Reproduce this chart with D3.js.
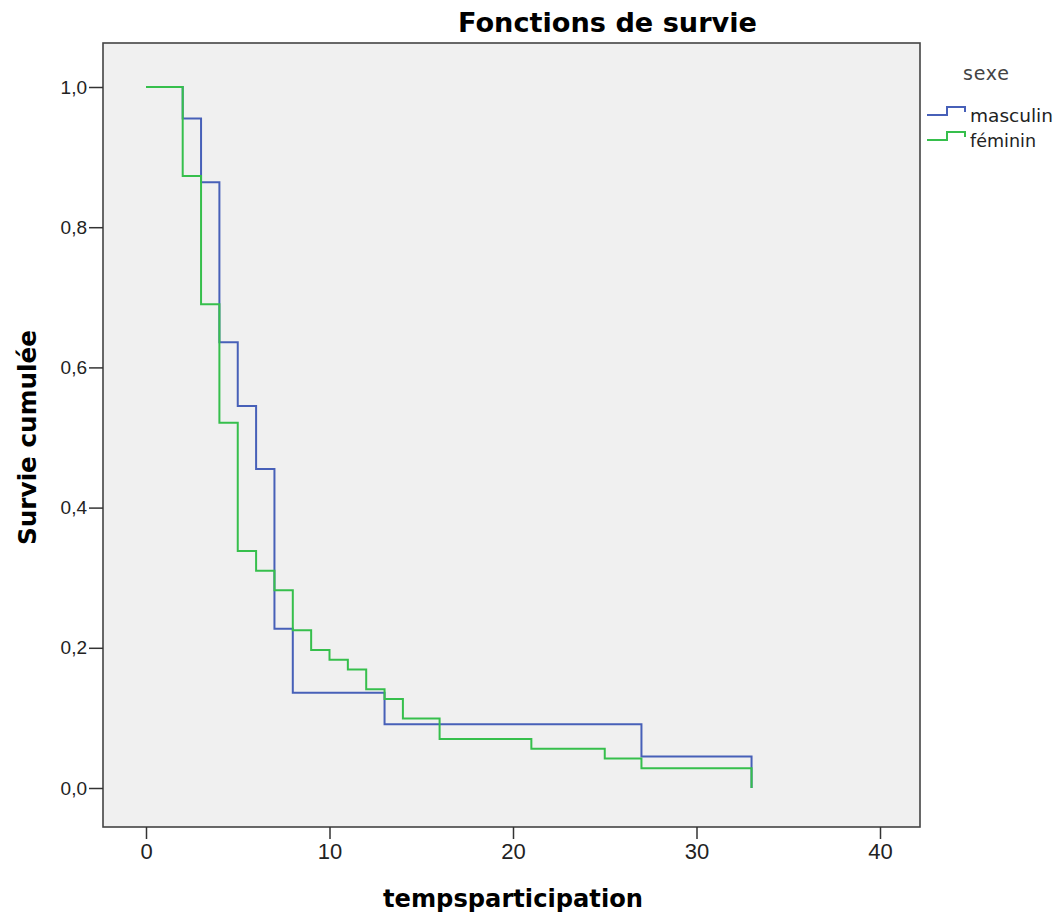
<!DOCTYPE html>
<html>
<head>
<meta charset="utf-8">
<script src="https://cdn.jsdelivr.net/npm/d3@7"></script>
<style>
  body { margin: 0; background: #fff; }
  text { font-family: "DejaVu Sans", Verdana, sans-serif; }
</style>
</head>
<body>
<svg id="chart"></svg>
<script>
// survival steps (time, cumulative survival after the step)
const timesMasculin = [0, 2, 3, 4, 5, 6, 7, 8, 13, 27, 33];
const survMasculin = [1.0, 0.955, 0.864, 0.636, 0.545, 0.455, 0.227, 0.136, 0.091, 0.045, 0.0];

const timesFeminin = [0, 2, 3, 4, 5, 6, 7, 8, 9, 10, 11, 12, 13, 14, 16, 21, 25, 27, 33];
const survFeminin = [1.0, 0.873, 0.690, 0.521, 0.338, 0.310, 0.282, 0.225, 0.197, 0.183, 0.169, 0.141, 0.127, 0.099, 0.070, 0.056, 0.042, 0.028, 0.0];

const groups = ['masculin', 'féminin'];
const groupColors = ['#4760b8', '#36bf4c'];
const xTicks = [0, 10, 20, 30, 40];
const yTicks = [0, 0.2, 0.4, 0.6, 0.8, 1.0];

const W = 1061, H = 917;
const frame = {left: 103, right: 920, top: 43, bottom: 827};
const NARROW = '"Liberation Sans Narrow", "Liberation Sans", Arial, sans-serif';

const svg = d3.select('#chart').attr('width', W).attr('height', H);

const xScale = d3.scaleLinear().domain([0, 40]).range([146, 880]);
const yScale = d3.scaleLinear().domain([0, 1]).range([788, 87]);

svg.append('rect')
  .attr('x', frame.left).attr('y', frame.top)
  .attr('width', frame.right - frame.left)
  .attr('height', frame.bottom - frame.top)
  .attr('fill', '#f0f0f0')
  .attr('stroke', '#444')
  .attr('stroke-width', 1.6);

// axes
const fmt = d => d3.format('.1f')(d).replace('.', ',');
const xAxis = svg.append('g')
  .attr('transform', `translate(0,${frame.bottom})`)
  .call(d3.axisBottom(xScale).tickValues(xTicks).tickSize(12).tickPadding(4))
  .call(g => g.select('.domain').remove());
xAxis.selectAll('.tick text')
  .attr('font-size', 22)
  .style('font-family', NARROW);

const yAxis = svg.append('g')
  .attr('transform', `translate(${frame.left},0)`)
  .call(d3.axisLeft(yScale).tickValues(yTicks).tickFormat(fmt).tickSize(14).tickPadding(2))
  .call(g => g.select('.domain').remove());
yAxis.selectAll('.tick text')
  .attr('font-size', 19)
  .style('font-family', '"Liberation Sans", Arial, sans-serif');

svg.selectAll('.tick line').attr('stroke', '#333').attr('stroke-width', 1.5);
svg.selectAll('.tick text').attr('fill', '#222');

// survival step lines
const line = d3.line()
  .x(d => xScale(d[0]))
  .y(d => yScale(d[1]))
  .curve(d3.curveStepAfter);

const series = [
  d3.zip(timesMasculin, survMasculin),
  d3.zip(timesFeminin, survFeminin)
];

svg.append('g')
  .selectAll('path')
  .data(series)
  .join('path')
  .attr('d', line)
  .attr('fill', 'none')
  .attr('stroke', (d, i) => groupColors[i])
  .attr('stroke-width', 2);

// titles
svg.append('text')
  .attr('x', 458).attr('y', 32)
  .attr('font-size', 27).attr('font-weight', 'bold')
  .attr('textLength', 299).attr('lengthAdjust', 'spacingAndGlyphs')
  .text('Fonctions de survie');

svg.append('text')
  .attr('transform', 'translate(36, 545) rotate(-90)')
  .attr('font-size', 25).attr('font-weight', 'bold')
  .attr('textLength', 215).attr('lengthAdjust', 'spacingAndGlyphs')
  .text('Survie cumulée');

svg.append('text')
  .attr('x', 383).attr('y', 907)
  .attr('font-size', 24).attr('font-weight', 'bold')
  .attr('textLength', 260).attr('lengthAdjust', 'spacingAndGlyphs')
  .text('tempsparticipation');

// legend
const legend = svg.append('g');
legend.append('text')
  .attr('x', 963).attr('y', 80)
  .attr('font-size', 19)
  .attr('fill', '#444')
  .attr('textLength', 46).attr('lengthAdjust', 'spacing')
  .text('sexe');

const item = legend.selectAll('g.item')
  .data(groups)
  .join('g')
  .attr('class', 'item')
  .attr('transform', (d, i) => `translate(0,${115 + i * 25})`);

item.append('path')
  .attr('d', 'M927,0 H947 V-8 H965 V-3')
  .attr('fill', 'none')
  .attr('stroke', (d, i) => groupColors[i])
  .attr('stroke-width', 2);

item.append('text')
  .attr('x', 970).attr('y', 7)
  .attr('font-size', 18.5)
  .attr('fill', '#222')
  .attr('textLength', (d, i) => [83, 66][i]).attr('lengthAdjust', 'spacingAndGlyphs')
  .text(d => d);
</script>
</body>
</html>
